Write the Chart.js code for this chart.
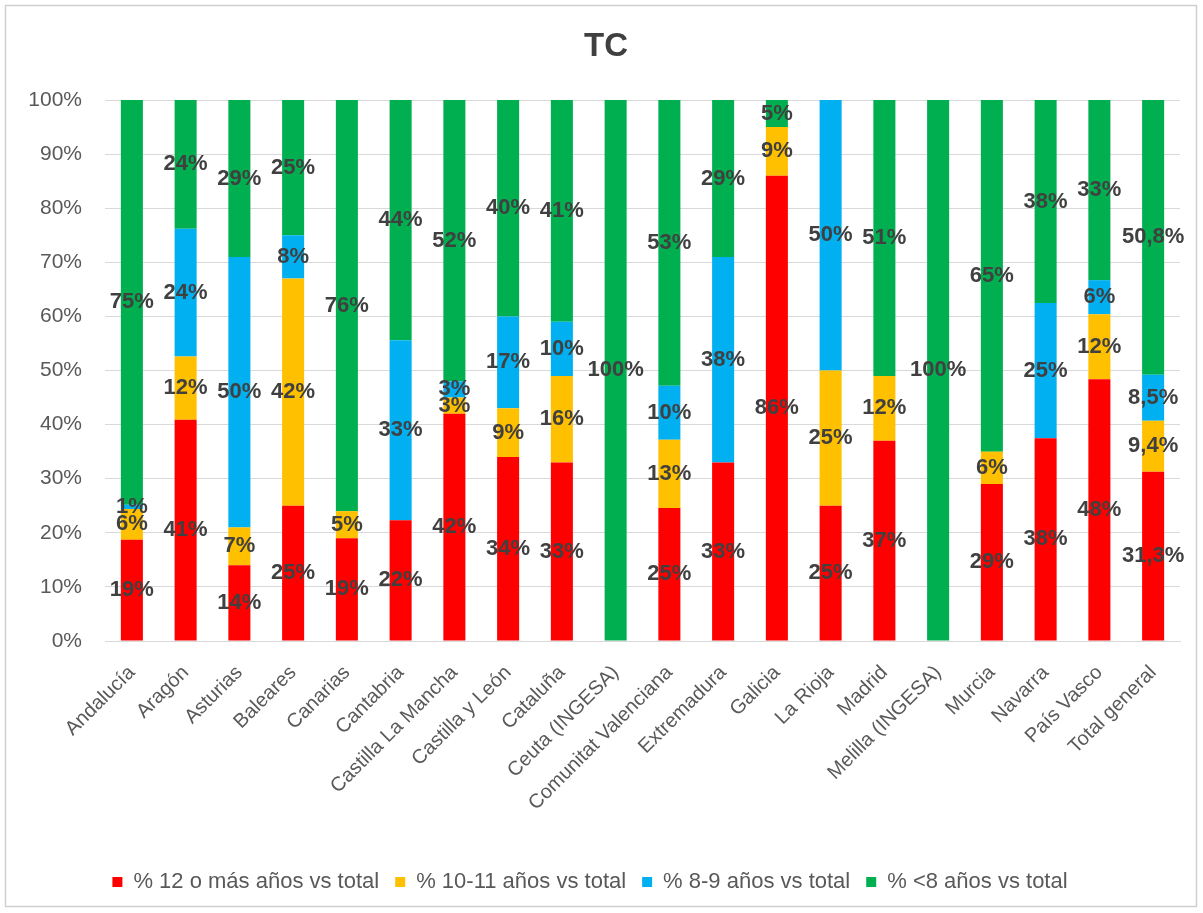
<!DOCTYPE html>
<html>
<head>
<meta charset="utf-8">
<script src="https://cdn.jsdelivr.net/npm/chart.js@4/dist/chart.umd.min.js"></script>
<style>
  html, body { margin: 0; padding: 0; background: #fff; }
  #wrap { position: relative; width: 1203px; height: 913px; }
</style>
</head>
<body>
<div id="wrap"><canvas id="chart" width="1203" height="913"></canvas></div>
<script>
const labels = [
  "Andalucía", "Aragón", "Asturias", "Baleares", "Canarias", "Cantabria",
  "Castilla La Mancha", "Castilla y León", "Cataluña", "Ceuta (INGESA)",
  "Comunitat Valenciana", "Extremadura", "Galicia", "La Rioja", "Madrid",
  "Melilla (INGESA)", "Murcia", "Navarra", "País Vasco", "Total general",
];

// % 12 o más años
const mas12 = [18.7, 40.9, 14, 25, 19, 22.3, 42, 34, 33, 0, 24.6, 33, 86, 25, 37, 0, 29, 37.5, 48.4, 31.3];
// % 10-11 años
const anos1011 = [5.7, 11.7, 7, 42, 5, 0, 3, 9, 16, 0, 12.6, 0, 9, 25, 12, 0, 6, 0, 12, 9.4];
// % 8-9 años
const anos89 = [0.8, 23.6, 50, 8, 0, 33.3, 3, 17, 10, 0, 10, 38, 0, 50, 0, 0, 0, 25, 6.3, 8.5];
// % <8 años
const menos8 = [74.8, 23.8, 29, 25, 76, 44.4, 52, 40, 41, 100, 52.8, 29, 5, 0, 51, 100, 65, 37.5, 33.3, 50.8];

const yTicks = [0, 10, 20, 30, 40, 50, 60, 70, 80, 90, 100];

const seriesNames = [
  "% 12 o más años vs total",
  "% 10-11 años vs total",
  "% 8-9 años vs total",
  "% <8 años vs total",
];
const seriesColors = ["#FF0000", "#FFC000", "#00B0F0", "#00B050"];
const chartTitle = "TC";

const FONT = "'Liberation Sans', Arial, sans-serif";

// texto de porcentaje centrado en cada tramo
const barLabels = {
  id: "barLabels",
  afterDatasetsDraw(chart) {
    const ctx = chart.ctx;
    ctx.save();
    ctx.font = "bold 22px " + FONT;
    ctx.fillStyle = "#404040";
    ctx.textAlign = "center";
    ctx.textBaseline = "middle";
    chart.data.datasets.forEach((ds, di) => {
      chart.getDatasetMeta(di).data.forEach((bar, i) => {
        const v = ds.data[i];
        if (!v) return;
        const txt = labels[i] === "Total general"
          ? v.toFixed(1).replace(".", ",") + "%"
          : Math.round(v) + "%";
        ctx.fillText(txt, bar.x, (bar.y + bar.base) / 2);
      });
    });
    ctx.restore();
  },
};

// fondo, marco y titulo
const frame = {
  id: "frame",
  beforeDraw(chart) {
    const ctx = chart.ctx;
    ctx.save();
    ctx.fillStyle = "#fff";
    ctx.fillRect(0, 0, chart.width, chart.height);
    ctx.strokeStyle = "#d0d0d0";
    ctx.lineWidth = 1.5;
    ctx.strokeRect(5.5, 5.5, 1191, 901);
    ctx.font = "bold 33px " + FONT;
    ctx.fillStyle = "#404040";
    ctx.textAlign = "center";
    ctx.textBaseline = "middle";
    ctx.fillText(chartTitle, 606, 47);
    ctx.restore();
  },
};

const data = [mas12, anos1011, anos89, menos8];

new Chart(document.getElementById("chart").getContext("2d"), {
  type: "bar",
  data: {
    labels,
    datasets: data.map((d, k) => ({
      label: seriesNames[k],
      data: d,
      backgroundColor: seriesColors[k],
      borderWidth: 0,
      barPercentage: 0.41,
      categoryPercentage: 1,
    })),
  },
  options: {
    responsive: false,
    animation: false,
    layout: { padding: { left: 0, right: 23, top: 100, bottom: 10 } },
    plugins: {
      title: { display: false },
      legend: {
        position: "bottom",
        labels: {
          color: "#595959",
          font: { family: FONT, size: 22 },
          boxWidth: 10,
          boxHeight: 10,
          padding: 16,
        },
      },
      tooltip: { enabled: false },
    },
    scales: {
      x: {
        stacked: true,
        grid: { display: false },
        border: { color: "#d9d9d9" },
        ticks: {
          color: "#595959",
          font: { family: FONT, size: 20 },
          minRotation: 45,
          maxRotation: 45,
          autoSkip: false,
          padding: 12,
        },
        afterFit(scale) { scale.height = 214; },
      },
      y: {
        stacked: true,
        min: 0,
        max: 100,
        afterBuildTicks(scale) { scale.ticks = yTicks.map(v => ({ value: v })); },
        grid: { color: "#d9d9d9", drawTicks: false },
        border: { display: false },
        ticks: {
          color: "#595959",
          font: { family: FONT, size: 21 },
          padding: 23,
          callback: v => v + "%",
        },
        afterFit(scale) { scale.width = 105; },
      },
    },
  },
  plugins: [frame, barLabels],
});
</script>
</body>
</html>
